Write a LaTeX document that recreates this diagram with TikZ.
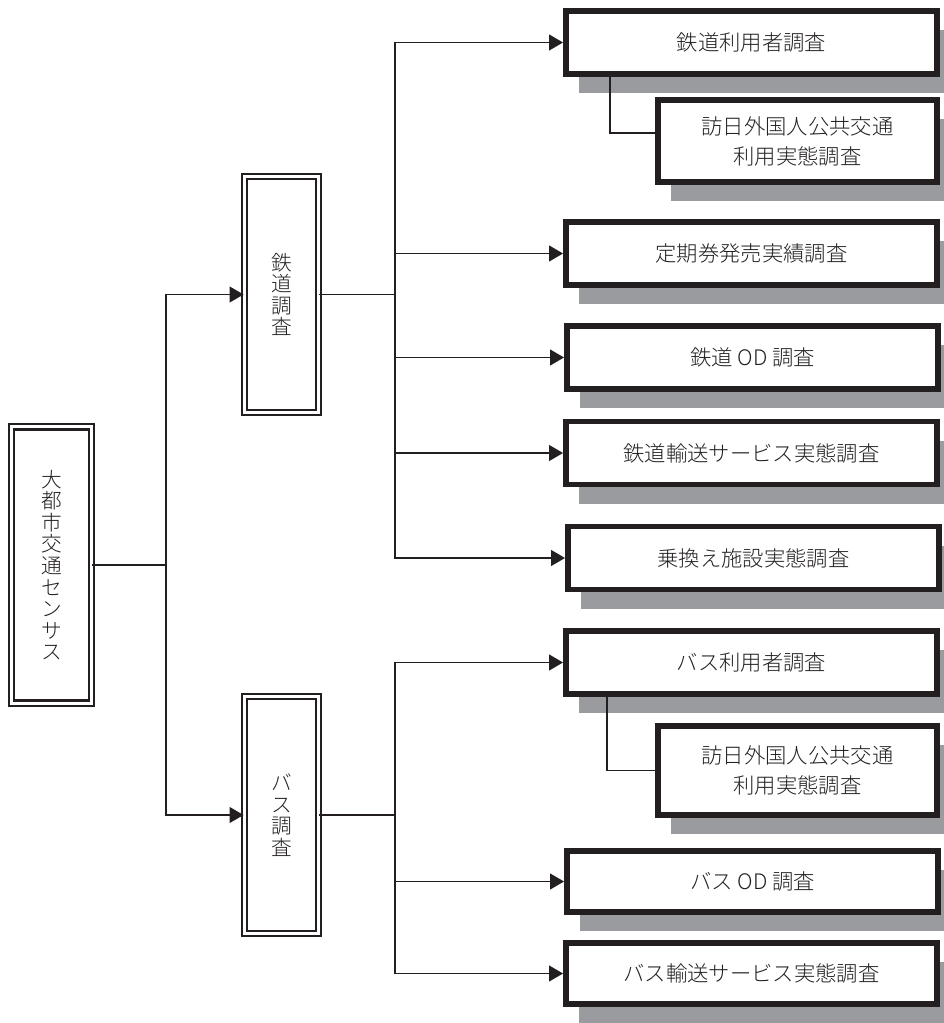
\documentclass[tikz,border=0pt]{standalone}
\usepackage{fontspec}
\setmainfont{Noto Sans CJK JP}[UprightFont=* Light]
\usepackage{tikz}
\usetikzlibrary{arrows.meta,shadows}
\definecolor{ink}{RGB}{35,31,32}
\definecolor{shade}{RGB}{154,155,158}

\begin{document}
\begin{tikzpicture}[x=0.75pt, y=-0.75pt, >={Triangle[length=10.5pt,width=11.8pt]},
  conn/.style={draw=ink, line width=1.45pt},
  dbox/.style={draw=ink, line width=1.7pt, double=white, double distance=2.2pt, inner sep=0pt,
               align=center, text=ink, font=\fontsize{15.5}{16.2}\selectfont, minimum width=55.2pt},
  sbox/.style={draw=ink, line width=4.4pt, fill=white, inner sep=0pt, align=center, text=ink,
               font=\fontsize{16}{22.5}\selectfont, minimum width=278.25pt, minimum height=47.25pt,
               drop shadow={shadow xshift=9.75pt, shadow yshift=-14.25pt, fill=shade, opacity=1}},
  vbox/.style={sbox, minimum width=209.25pt, minimum height=61.5pt}]
  \useasboundingbox (0,0) rectangle (944,1023);
  \node[dbox, minimum width=59.7pt, minimum height=207.3pt] (census) at (51.5,565) {大\\都\\市\\交\\通\\セ\\ン\\サ\\ス};
  \node[dbox, minimum height=176.7pt] (rail) at (281.5,294.5) {鉄\\道\\調\\査};
  \node[dbox, minimum height=177.4pt] (bus)  at (281.5,815)   {バ\\ス\\調\\査};
  \node[sbox] (r1) at (751.5,42.5)  {鉄道利用者調査};
  \node[vbox] (r2) at (797.5,141)   {訪日外国人公共交通\\利用実態調査};
  \node[sbox] (r3) at (751.5,253.5) {定期券発売実績調査};
  \node[sbox] (r4) at (752.5,357.5) {鉄道 OD 調査};
  \node[sbox] (r5) at (751.5,453)   {鉄道輸送サービス実態調査};
  \node[sbox] (r6) at (753.5,558)   {乗換え施設実態調査};
  \node[sbox] (b1) at (751.5,662.5) {バス利用者調査};
  \node[vbox, minimum height=66.75pt] (b2) at (797.5,770.5) {訪日外国人公共交通\\利用実態調査};
  \node[sbox, minimum height=45.75pt] (b3) at (752.5,881.5) {バス OD 調査};
  \node[sbox, minimum height=45.75pt] (b4) at (751.5,973.5) {バス輸送サービス実態調査};
  \coordinate (jm) at (166,565);
  \coordinate (jr) at (395,294.5);
  \coordinate (jb) at (395,815);
  \draw[conn] (census.east) -- (jm);
  \draw[conn,->] (jm) |- (rail.west);
  \draw[conn,->] (jm) |- (bus.west);
  \draw[conn] (rail.east) -- (jr);
  \foreach \n in {r1,r3,r4,r5,r6} \draw[conn,->] (jr) |- (\n.west);
  \draw[conn] (bus.east) -- (jb);
  \foreach \n in {b1,b3,b4} \draw[conn,->] (jb) |- (\n.west);
  \draw[conn] ([xshift=35.25pt]r1.south west) |- ([yshift=6pt]r2.west);
  \draw[conn] ([xshift=33pt]b1.south west) |- (b2.west);
\end{tikzpicture}
\end{document}
